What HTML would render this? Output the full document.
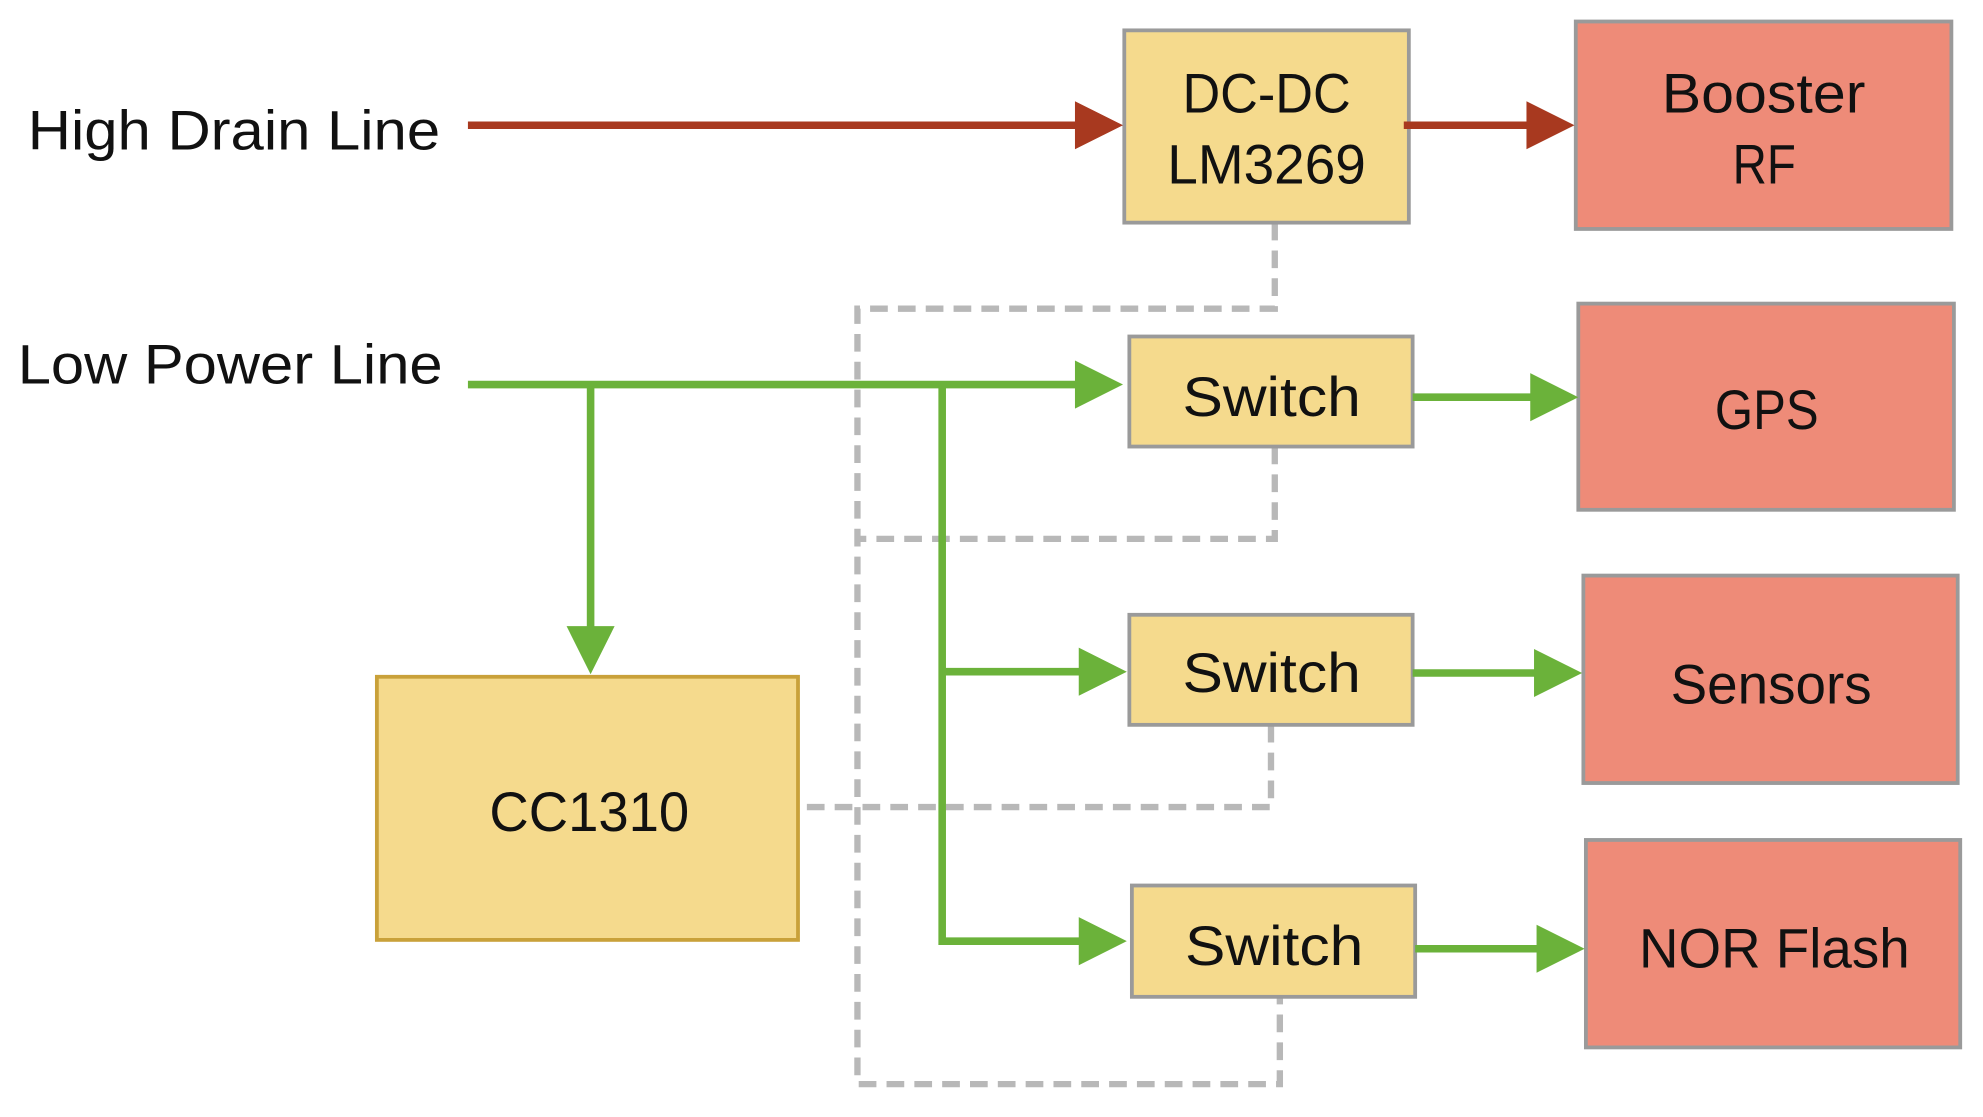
<!DOCTYPE html>
<html><head><meta charset="utf-8"><style>
html,body{margin:0;padding:0;background:#fff;}
svg{display:block;}
text{font-family:"Liberation Sans",sans-serif;fill:#111;}
</style></head><body>
<svg width="1983" height="1117" viewBox="0 0 1568 883" preserveAspectRatio="none" xmlns="http://www.w3.org/2000/svg">
<g stroke="#b8b8b8" stroke-width="5" fill="none" stroke-dasharray="14,8">
<path d="M1008 176 V244 H678 V857 H1012 V788"/>
<path d="M1008 353 V426 H678"/>
<path d="M1005 573 V638 H631"/>
</g>
<g stroke="#9a9a9a" stroke-width="3">
<rect x="889" y="24" width="225" height="152" fill="#f5da8d"/>
<rect x="893" y="266" width="224" height="87" fill="#f5da8d"/>
<rect x="893" y="486" width="224" height="87" fill="#f5da8d"/>
<rect x="895" y="700" width="224" height="88" fill="#f5da8d"/>
<rect x="1246" y="17" width="297" height="164" fill="#ee8b78"/>
<rect x="1248" y="240" width="297" height="163" fill="#ee8b78"/>
<rect x="1252" y="455" width="296" height="164" fill="#ee8b78"/>
<rect x="1254" y="664" width="296" height="164" fill="#ee8b78"/>
</g>
<rect x="298" y="535" width="333" height="208" fill="#f5da8d" stroke="#c9a13a" stroke-width="3"/>
<g stroke="#a8391f" stroke-width="6" fill="#a8391f">
<line x1="370" y1="99" x2="855" y2="99"/>
<line x1="1110" y1="99" x2="1212" y2="99"/>
</g>
<g fill="#a8391f">
<polygon points="850,80 888,99 850,118"/>
<polygon points="1207,80 1245,99 1207,118"/>
</g>
<g stroke="#6bb23a" stroke-width="6" fill="none">
<line x1="370" y1="304" x2="855" y2="304"/>
<line x1="467" y1="304" x2="467" y2="500"/>
<path d="M745 304 V744 H858"/>
<line x1="745" y1="531" x2="858" y2="531"/>
<line x1="1117" y1="314" x2="1215" y2="314"/>
<line x1="1117" y1="532" x2="1218" y2="532"/>
<line x1="1119" y1="750" x2="1220" y2="750"/>
</g>
<g fill="#6bb23a">
<polygon points="850,285 888,304 850,323"/>
<polygon points="448,495 486,495 467,533"/>
<polygon points="853,512 891,531 853,550"/>
<polygon points="853,725 891,744 853,763"/>
<polygon points="1210,295 1248,314 1210,333"/>
<polygon points="1213,513 1251,532 1213,551"/>
<polygon points="1215,731 1253,750 1215,769"/>
</g>
<g font-size="44" lengthAdjust="spacingAndGlyphs">
<text x="22" y="118" textLength="326" lengthAdjust="spacingAndGlyphs">High Drain Line</text>
<text x="14" y="303" textLength="336" lengthAdjust="spacingAndGlyphs">Low Power Line</text>
<text x="935" y="89" textLength="133" lengthAdjust="spacingAndGlyphs">DC-DC</text>
<text x="923" y="145" textLength="157" lengthAdjust="spacingAndGlyphs">LM3269</text>
<text x="1314" y="89" textLength="161" lengthAdjust="spacingAndGlyphs">Booster</text>
<text x="1370" y="145" textLength="50" lengthAdjust="spacingAndGlyphs">RF</text>
<text x="935" y="329" textLength="141" lengthAdjust="spacingAndGlyphs">Switch</text>
<text x="935" y="547" textLength="141" lengthAdjust="spacingAndGlyphs">Switch</text>
<text x="937" y="763" textLength="141" lengthAdjust="spacingAndGlyphs">Switch</text>
<text x="1356" y="339" textLength="82" lengthAdjust="spacingAndGlyphs">GPS</text>
<text x="1321" y="556" textLength="159" lengthAdjust="spacingAndGlyphs">Sensors</text>
<text x="1296" y="765" textLength="214" lengthAdjust="spacingAndGlyphs">NOR Flash</text>
<text x="387" y="657" textLength="158" lengthAdjust="spacingAndGlyphs">CC1310</text>
</g>
</svg>
</body></html>
